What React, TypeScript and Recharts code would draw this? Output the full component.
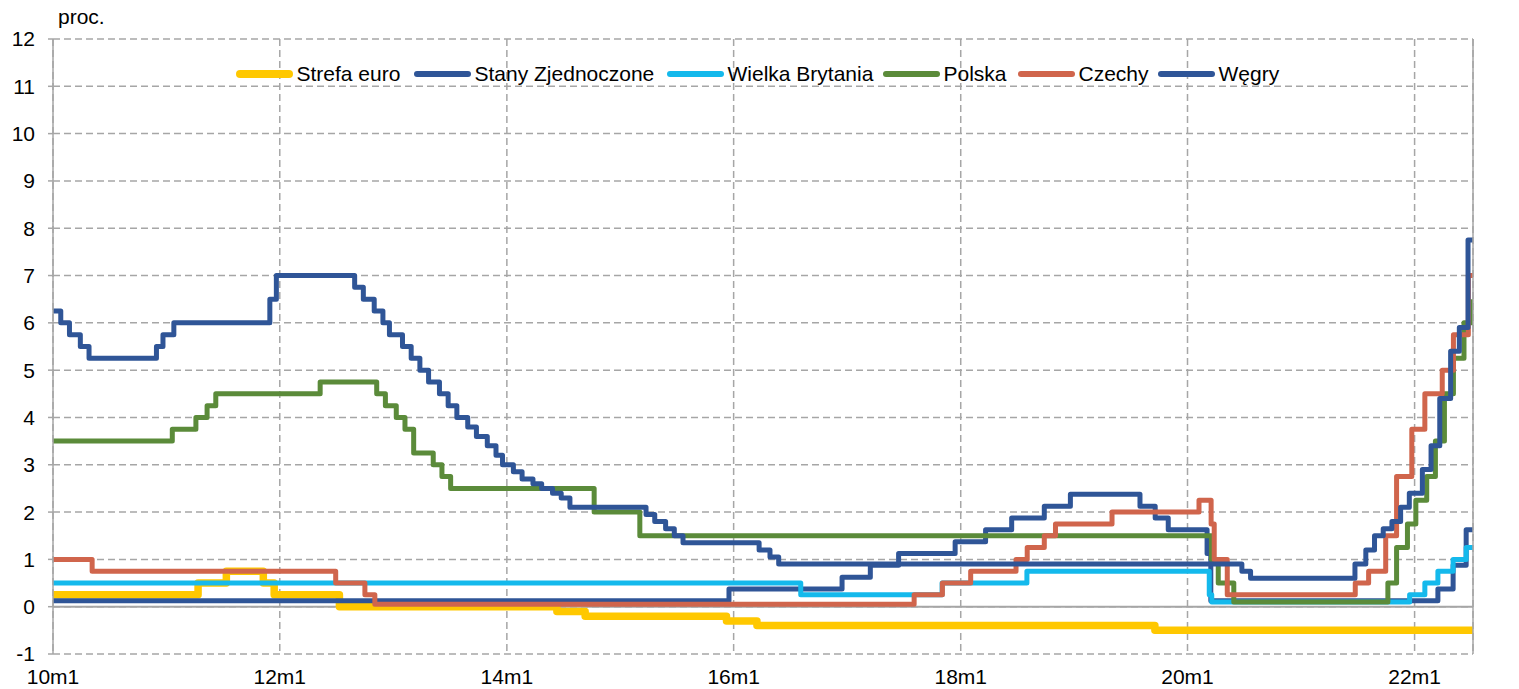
import React from 'react';
import { LineChart, Line, XAxis, YAxis, CartesianGrid, ReferenceLine } from 'recharts';

type Step = [string, number];

// stopy procentowe banków centralnych: [data zmiany, poziom w proc.]
const strefaEuro: Step[] = [
  ['2010-01-01', 0.25], ['2011-04-13', 0.5], ['2011-07-13', 0.75], ['2011-11-09', 0.5],
  ['2011-12-14', 0.25], ['2012-07-11', 0], ['2014-06-11', -0.1], ['2014-09-10', -0.2],
  ['2015-12-09', -0.3], ['2016-03-16', -0.4], ['2019-09-18', -0.5], ['2022-07-08', -0.5],
];

const stanyZjednoczone: Step[] = [
  ['2010-01-01', 0.125], ['2015-12-17', 0.375], ['2016-12-15', 0.625], ['2017-03-16', 0.875],
  ['2017-06-15', 1.125], ['2017-12-14', 1.375], ['2018-03-22', 1.625], ['2018-06-14', 1.875],
  ['2018-09-27', 2.125], ['2018-12-20', 2.375], ['2019-08-01', 2.125], ['2019-09-19', 1.875],
  ['2019-10-31', 1.625], ['2020-03-04', 1.125], ['2020-03-16', 0.125], ['2022-03-17', 0.375],
  ['2022-05-05', 0.875], ['2022-06-16', 1.625], ['2022-07-08', 1.625],
];

const wielkaBrytania: Step[] = [
  ['2010-01-01', 0.5], ['2016-08-04', 0.25], ['2017-11-02', 0.5], ['2018-08-02', 0.75],
  ['2020-03-11', 0.25], ['2020-03-19', 0.1], ['2021-12-16', 0.25], ['2022-02-03', 0.5],
  ['2022-03-17', 0.75], ['2022-05-05', 1.0], ['2022-06-16', 1.25], ['2022-07-08', 1.25],
];

const polska: Step[] = [
  ['2010-01-01', 3.5], ['2011-01-20', 3.75], ['2011-04-06', 4.0], ['2011-05-12', 4.25],
  ['2011-06-09', 4.5], ['2012-05-10', 4.75], ['2012-11-08', 4.5], ['2012-12-06', 4.25],
  ['2013-01-10', 4.0], ['2013-02-07', 3.75], ['2013-03-07', 3.25], ['2013-05-09', 3.0],
  ['2013-06-06', 2.75], ['2013-07-04', 2.5], ['2014-10-09', 2.0], ['2015-03-05', 1.5],
  ['2020-03-18', 1.0], ['2020-04-09', 0.5], ['2020-05-29', 0.1], ['2021-10-07', 0.5],
  ['2021-11-04', 1.25], ['2021-12-09', 1.75], ['2022-01-05', 2.25], ['2022-02-09', 2.75],
  ['2022-03-09', 3.5], ['2022-04-07', 4.5], ['2022-05-06', 5.25], ['2022-06-09', 6.0],
  ['2022-07-08', 6.5],
];

const czechy: Step[] = [
  ['2010-01-01', 1.0], ['2010-05-07', 0.75], ['2012-06-29', 0.5], ['2012-10-01', 0.25],
  ['2012-11-02', 0.05], ['2017-08-04', 0.25], ['2017-11-03', 0.5], ['2018-02-02', 0.75],
  ['2018-06-28', 1.0], ['2018-08-03', 1.25], ['2018-09-27', 1.5], ['2018-11-02', 1.75],
  ['2019-05-03', 2.0], ['2020-02-07', 2.25], ['2020-03-17', 1.75], ['2020-03-27', 1.0],
  ['2020-05-08', 0.25], ['2021-06-24', 0.5], ['2021-08-06', 0.75], ['2021-09-30', 1.5],
  ['2021-11-04', 2.75], ['2021-12-23', 3.75], ['2022-02-03', 4.5], ['2022-03-31', 5.0],
  ['2022-05-06', 5.75], ['2022-06-23', 7.0], ['2022-07-08', 7.0],
];

const wegry: Step[] = [
  ['2010-01-01', 6.25], ['2010-01-26', 6.0], ['2010-02-23', 5.75], ['2010-03-30', 5.5],
  ['2010-04-27', 5.25], ['2010-11-30', 5.5], ['2010-12-21', 5.75], ['2011-01-25', 6.0],
  ['2011-11-30', 6.5], ['2011-12-21', 7.0], ['2012-08-29', 6.75], ['2012-09-26', 6.5],
  ['2012-10-31', 6.25], ['2012-11-28', 6.0], ['2012-12-19', 5.75], ['2013-01-30', 5.5],
  ['2013-02-27', 5.25], ['2013-03-27', 5.0], ['2013-04-24', 4.75], ['2013-05-29', 4.5],
  ['2013-06-26', 4.25], ['2013-07-24', 4.0], ['2013-08-28', 3.8], ['2013-09-25', 3.6],
  ['2013-10-30', 3.4], ['2013-11-27', 3.2], ['2013-12-18', 3.0], ['2014-01-22', 2.85],
  ['2014-02-19', 2.7], ['2014-03-26', 2.6], ['2014-04-23', 2.5], ['2014-05-28', 2.4],
  ['2014-06-25', 2.3], ['2014-07-23', 2.1], ['2015-03-25', 1.95], ['2015-04-22', 1.8],
  ['2015-05-27', 1.65], ['2015-06-24', 1.5], ['2015-07-22', 1.35], ['2016-03-23', 1.2],
  ['2016-04-27', 1.05], ['2016-05-25', 0.9], ['2020-06-24', 0.75], ['2020-07-22', 0.6],
  ['2021-06-23', 0.9], ['2021-07-28', 1.2], ['2021-08-25', 1.5], ['2021-09-22', 1.65],
  ['2021-10-20', 1.8], ['2021-11-17', 2.1], ['2021-12-15', 2.4], ['2022-01-26', 2.9],
  ['2022-02-23', 3.4], ['2022-03-23', 4.4], ['2022-04-27', 5.4], ['2022-05-25', 5.9],
  ['2022-06-22', 7.75], ['2022-07-08', 7.75],
];

const yTicks = [-1, 0, 1, 2, 3, 4, 5, 6, 7, 8, 9, 10, 11, 12];
const xTickYears = [2010, 2012, 2014, 2016, 2018, 2020, 2022];
const lastDate = '2022-07-08';

const DAY = 86400000;
const START = Date.UTC(2010, 0, 1);
const toDay = (d: string) => {
  const [y, m, dd] = d.split('-').map(Number);
  return (Date.UTC(y, m - 1, dd) - START) / DAY;
};
const toPoints = (s: Step[]) => s.map(([d, v]) => ({ x: toDay(d), v }));
const xTicks = xTickYears.map((y) => toDay(`${y}-01-01`));
const fmtX = (x: number) => `${String(new Date(START + x * DAY).getUTCFullYear()).slice(2)}m1`;

const FONT = '"Liberation Sans", Arial, sans-serif';
const GRID = '#A6A6A6';

const series = [
  { name: 'Strefa euro', data: strefaEuro, color: '#FFC800', width: 7.5 },
  { name: 'Stany Zjednoczone', data: stanyZjednoczone, color: '#2F5597', width: 5 },
  { name: 'Wielka Brytania', data: wielkaBrytania, color: '#14B9EC', width: 5 },
  { name: 'Polska', data: polska, color: '#5B8B3A', width: 5 },
  { name: 'Czechy', data: czechy, color: '#D0654C', width: 5 },
  { name: 'Węgry', data: wegry, color: '#2F5597', width: 5 },
];

const legendLeft = [236, 414, 667, 883, 1018, 1158];

export default function App() {
  const tick = { fontSize: 21, fill: '#000', fontFamily: FONT };
  return (
    <div style={{ position: 'absolute', left: 0, top: 0, width: 1519, height: 689, background: '#fff', fontFamily: FONT }}>
      <LineChart width={1519} height={689} margin={{ top: 39, right: 0, bottom: 0, left: 0 }}>
        <CartesianGrid yAxisId="left" stroke={GRID} strokeDasharray="7 4" strokeWidth={1.5} />
        <XAxis
          type="number"
          dataKey="x"
          domain={[0, toDay(lastDate)]}
          ticks={xTicks}
          interval={0}
          tickFormatter={fmtX}
          axisLine={false}
          tickLine={false}
          tickSize={0}
          tickMargin={15}
          height={35}
          tick={tick}
          allowDataOverflow
        />
        <YAxis
          yAxisId="left"
          domain={[-1, 12]}
          ticks={yTicks}
          interval={0}
          width={53}
          axisLine={{ stroke: GRID, strokeWidth: 1.5 }}
          tickLine={{ stroke: GRID, strokeWidth: 1.5 }}
          tickSize={5}
          tickMargin={13}
          tick={tick}
        />
        <YAxis
          yAxisId="right"
          orientation="right"
          domain={[-1, 12]}
          ticks={yTicks}
          interval={0}
          width={46}
          axisLine={{ stroke: GRID, strokeWidth: 1.5 }}
          tickLine={{ stroke: GRID, strokeWidth: 1.5 }}
          tickSize={5}
          tickMargin={12}
          tick={tick}
        />
        <ReferenceLine yAxisId="left" y={0} stroke={GRID} strokeWidth={2} />
        {series.map((s) => (
          <Line
            key={s.name}
            yAxisId="left"
            data={toPoints(s.data)}
            dataKey="v"
            name={s.name}
            type="stepAfter"
            stroke={s.color}
            strokeWidth={s.width}
            strokeLinejoin="round"
            dot={false}
            activeDot={false}
            isAnimationActive={false}
          />
        ))}
      </LineChart>

      <div style={{ position: 'absolute', left: 58, top: 6, fontSize: 21, lineHeight: '21px', color: '#000' }}>proc.</div>

      {series.map((s, i) => (
        <div
          key={s.name}
          style={{ position: 'absolute', left: legendLeft[i], top: 62, height: 24, display: 'flex', alignItems: 'center' }}
        >
          <div style={{ width: 57, height: s.width + 0.5, borderRadius: 4, background: s.color }} />
          <span style={{ marginLeft: 3.5, fontSize: 21, color: '#000', whiteSpace: 'nowrap' }}>{s.name}</span>
        </div>
      ))}
    </div>
  );
}
